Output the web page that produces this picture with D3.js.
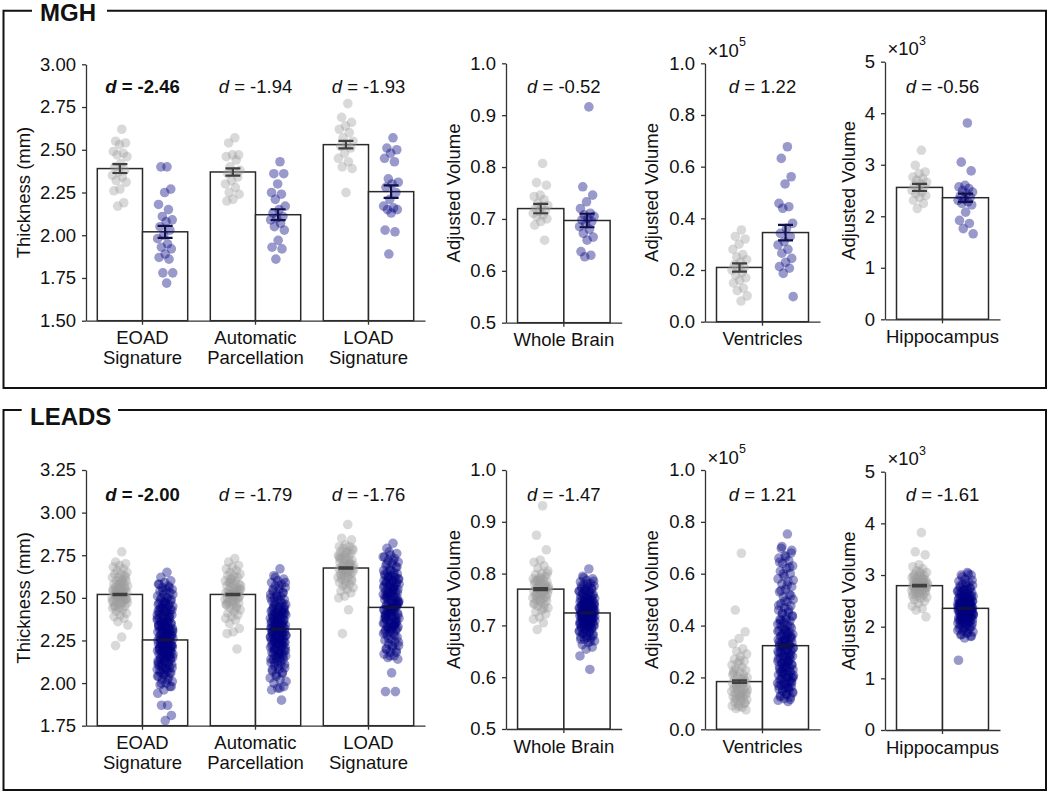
<!DOCTYPE html>
<html><head><meta charset="utf-8">
<script src="https://cdn.jsdelivr.net/npm/d3@7"></script>
<style>
body{margin:0;background:#fff;}
svg text{font-family:"Liberation Sans",Arial,Helvetica,sans-serif;fill:#111;}
</style></head><body>
<svg id="chart" width="1050" height="793"></svg>
<script>
// ---------------- DATA ----------------
const cohorts = ["MGH", "LEADS"];
const thicknessCategories = ["EOAD\nSignature", "Automatic\nParcellation", "LOAD\nSignature"];
const volumeCategories = ["Whole Brain", "Ventricles", "Hippocampus"];
const thicknessLabel = "Thickness (mm)";
const volumeLabel = "Adjusted Volume";
const volumeMultipliers = [null, "5", "3"];

// tick labels
const mghThickTicks = [1.50, 1.75, 2.00, 2.25, 2.50, 2.75, 3.00];
const leadsThickTicks = [1.75, 2.00, 2.25, 2.50, 2.75, 3.00, 3.25];
const wholeBrainTicks = [0.5, 0.6, 0.7, 0.8, 0.9, 1.0];
const ventricleTicks = [0.0, 0.2, 0.4, 0.6, 0.8, 1.0];
const hippocampusTicks = [0, 1, 2, 3, 4, 5];

// effect sizes
const mghThickD = ["-2.46", "-1.94", "-1.93"];
const mghVolD = ["-0.52", "1.22", "-0.56"];
const leadsThickD = ["-2.00", "-1.79", "-1.76"];
const leadsVolD = ["-1.47", "1.21", "-1.61"];

// bar means and standard errors (CN = grey, AD = blue)
const mghThickMeanCN = [2.39, 2.37, 2.53];
const mghThickMeanAD = [2.02, 2.12, 2.255];
const mghThickSeCN = [0.026, 0.021, 0.022];
const mghThickSeAD = [0.035, 0.032, 0.037];
const mghVolMeanCN = [0.720, 0.210, 2.56];
const mghVolMeanAD = [0.697, 0.345, 2.36];
const mghVolSeCN = [0.009, 0.016, 0.07];
const mghVolSeAD = [0.013, 0.030, 0.08];

const leadsThickMeanCN = [2.52, 2.52, 2.675];
const leadsThickMeanAD = [2.253, 2.317, 2.444];
const leadsThickSeCN = [0.004, 0.004, 0.004];
const leadsThickSeAD = [0.003, 0.003, 0.003];
const leadsVolMeanCN = [0.770, 0.184, 2.794];
const leadsVolMeanAD = [0.724, 0.3225, 2.355];
const leadsVolSeCN = [0.002, 0.005, 0.015];
const leadsVolSeAD = [0.001, 0.004, 0.01];

// individual points — MGH
const mghEoadCN = [2.62,2.55,2.54,2.53,2.49,2.48,2.47,2.46,2.42,2.40,2.38,2.37,2.35,2.34,2.32,2.31,2.27,2.26,2.19,2.17];
const mghEoadAD = [2.40,2.40,2.27,2.25,2.18,2.15,2.11,2.09,2.08,2.05,2.03,2.00,1.98,1.95,1.93,1.92,1.89,1.87,1.86,1.78,1.78,1.72];
const mghAutoCN = [2.57,2.54,2.47,2.47,2.46,2.44,2.40,2.38,2.37,2.36,2.34,2.32,2.30,2.28,2.25,2.24,2.21,2.20];
const mghAutoAD = [2.43,2.36,2.36,2.30,2.25,2.24,2.21,2.17,2.15,2.13,2.11,2.10,2.09,2.07,2.05,2.03,1.97,1.93,1.92,1.86];
const mghLoadCN = [2.77,2.69,2.66,2.64,2.62,2.60,2.57,2.55,2.53,2.52,2.51,2.48,2.45,2.43,2.40,2.39,2.25];
const mghLoadAD = [2.57,2.51,2.50,2.48,2.45,2.43,2.33,2.31,2.30,2.28,2.25,2.21,2.17,2.16,2.15,2.15,2.13,2.03,2.02,1.89];
const mghWholeCN = [0.807,0.770,0.765,0.746,0.743,0.737,0.730,0.726,0.724,0.720,0.716,0.714,0.711,0.708,0.704,0.700,0.695,0.688,0.659];
const mghWholeAD = [0.916,0.762,0.746,0.733,0.720,0.711,0.708,0.705,0.701,0.698,0.695,0.690,0.685,0.680,0.672,0.665,0.659,0.637,0.630,0.627];
const mghVentCN = [0.355,0.33,0.32,0.30,0.28,0.26,0.25,0.24,0.23,0.22,0.21,0.21,0.20,0.19,0.18,0.17,0.16,0.15,0.13,0.12,0.10,0.08];
const mghVentAD = [0.677,0.632,0.561,0.533,0.458,0.445,0.439,0.381,0.361,0.342,0.330,0.310,0.297,0.280,0.265,0.245,0.230,0.213,0.207,0.187,0.097];
const mghHippoCN = [3.28,2.99,2.86,2.83,2.76,2.73,2.70,2.66,2.63,2.60,2.57,2.54,2.50,2.47,2.44,2.40,2.37,2.31,2.25,2.15];
const mghHippoAD = [3.81,3.05,2.88,2.60,2.57,2.54,2.50,2.47,2.44,2.40,2.37,2.33,2.31,2.28,2.25,2.22,2.08,1.92,1.86,1.76,1.66];

// individual points — LEADS
const leadsEoadCN = [2.77,2.71,2.70,2.69,2.68,2.67,2.66,2.65,2.64,2.64,2.63,2.62,2.62,2.61,2.60,2.60,2.59,2.58,2.58,2.57,2.57,2.56,2.56,2.55,2.55,2.54,2.54,2.53,2.53,2.52,2.52,2.51,2.51,2.50,2.50,2.50,2.49,2.49,2.48,2.48,2.47,2.47,2.46,2.45,2.45,2.44,2.44,2.43,2.42,2.41,2.40,2.39,2.38,2.36,2.34,2.27,2.22,
  2.62,2.58,2.55,2.53,2.51,2.49,2.47,2.45,2.56,2.52,2.48,2.60,2.54,2.50];
const leadsEoadAD = [2.65,2.62,2.60,2.59,2.58,2.57,2.56,2.55,2.55,2.54,2.53,2.52,2.51,2.50,2.50,2.49,2.48,2.47,2.46,2.46,2.45,2.44,2.44,2.43,2.42,2.42,2.41,2.40,2.40,2.39,2.38,2.38,2.37,2.37,2.36,2.35,2.35,2.34,2.34,2.33,2.33,2.32,2.32,2.31,2.31,2.30,2.30,2.29,2.29,2.28,2.28,2.27,2.27,2.26,2.26,2.25,2.25,2.24,2.24,2.23,2.23,2.22,2.22,2.21,2.21,2.20,2.20,2.19,2.19,2.18,2.18,2.17,2.17,2.16,2.16,2.15,2.15,2.14,2.14,2.13,2.13,2.12,2.11,2.11,2.10,2.10,2.09,2.08,2.08,2.07,2.06,2.06,2.05,2.04,2.03,2.02,2.01,2.00,1.99,1.98,1.96,1.94,1.87,1.87,1.81,1.78,
  2.58,2.56,2.54,2.52,2.50,2.49,2.48,2.47,2.46,2.45,2.44,2.43,2.42,2.41,2.40,2.39,2.38,2.37,2.36,2.35,2.34,2.33,2.32,2.31,2.30,2.29,2.28,2.27,2.26,2.25,2.24,2.23,2.22,2.21,2.20,2.19,2.18,2.17,2.16,2.15,2.14,2.13,2.12,2.11,2.10,2.09,2.08,2.07,2.06,2.05,2.04,2.02,2.00,1.98,2.47,2.43,2.39,2.35,2.31,2.27,2.23,2.19,2.15,2.11,2.36,2.32,2.28,2.24,2.20,2.16,2.44,2.40,2.30,2.26,2.22,2.18,2.34,2.29,2.25,2.21];
const leadsAutoCN = [2.73,2.71,2.69,2.68,2.67,2.66,2.65,2.64,2.63,2.63,2.62,2.61,2.60,2.60,2.59,2.58,2.58,2.57,2.56,2.56,2.55,2.55,2.54,2.54,2.53,2.53,2.52,2.52,2.51,2.51,2.50,2.50,2.49,2.49,2.48,2.48,2.47,2.46,2.46,2.45,2.44,2.43,2.42,2.41,2.40,2.39,2.38,2.37,2.35,2.32,2.30,2.29,2.20,
  2.61,2.57,2.54,2.52,2.50,2.48,2.46,2.44,2.59,2.55,2.51,2.47,2.53];
const leadsAutoAD = [2.67,2.63,2.61,2.60,2.59,2.58,2.57,2.56,2.55,2.54,2.53,2.52,2.52,2.51,2.50,2.49,2.49,2.48,2.47,2.46,2.46,2.45,2.44,2.44,2.43,2.42,2.42,2.41,2.41,2.40,2.40,2.39,2.39,2.38,2.38,2.37,2.37,2.36,2.36,2.35,2.35,2.34,2.34,2.33,2.33,2.32,2.32,2.31,2.31,2.30,2.30,2.29,2.29,2.28,2.28,2.27,2.27,2.26,2.26,2.25,2.25,2.24,2.24,2.23,2.23,2.22,2.22,2.21,2.20,2.20,2.19,2.18,2.18,2.17,2.16,2.16,2.15,2.14,2.14,2.13,2.12,2.11,2.10,2.09,2.08,2.07,2.06,2.05,2.03,2.02,2.00,1.98,1.97,1.96,1.90,
  2.62,2.59,2.57,2.55,2.53,2.51,2.50,2.48,2.47,2.45,2.44,2.43,2.42,2.41,2.40,2.39,2.38,2.37,2.36,2.35,2.34,2.33,2.32,2.31,2.30,2.29,2.28,2.27,2.26,2.25,2.24,2.23,2.22,2.21,2.20,2.19,2.18,2.17,2.16,2.15,2.14,2.13,2.12,2.11,2.10,2.08,2.06,2.04,2.01,1.97,2.45,2.41,2.37,2.33,2.29,2.25,2.21,2.17,2.39,2.35,2.31,2.27,2.23,2.19,2.43,2.36,2.30,2.24,2.34,2.28];
const leadsLoadCN = [2.93,2.85,2.84,2.81,2.80,2.80,2.79,2.78,2.77,2.77,2.76,2.75,2.75,2.74,2.73,2.72,2.72,2.71,2.70,2.70,2.69,2.69,2.68,2.68,2.67,2.67,2.66,2.66,2.65,2.65,2.64,2.64,2.63,2.62,2.62,2.61,2.60,2.60,2.59,2.58,2.57,2.56,2.55,2.54,2.53,2.51,2.50,2.43,2.29,
  2.79,2.76,2.73,2.71,2.69,2.67,2.65,2.63,2.61,2.58,2.74,2.70,2.66];
const leadsLoadAD = [2.82,2.79,2.76,2.75,2.74,2.73,2.72,2.71,2.70,2.69,2.68,2.67,2.66,2.65,2.65,2.64,2.63,2.63,2.62,2.61,2.61,2.60,2.59,2.59,2.58,2.57,2.57,2.56,2.55,2.55,2.54,2.53,2.53,2.52,2.51,2.51,2.50,2.49,2.49,2.48,2.47,2.47,2.46,2.45,2.45,2.44,2.43,2.43,2.42,2.41,2.41,2.40,2.39,2.39,2.38,2.37,2.37,2.36,2.35,2.35,2.34,2.33,2.33,2.32,2.31,2.31,2.30,2.29,2.29,2.28,2.27,2.26,2.25,2.24,2.23,2.22,2.21,2.20,2.19,2.18,2.17,2.16,2.15,2.14,2.06,1.95,1.95,
  2.77,2.74,2.72,2.70,2.68,2.66,2.64,2.63,2.62,2.61,2.60,2.59,2.58,2.57,2.56,2.55,2.54,2.53,2.52,2.51,2.50,2.49,2.48,2.47,2.46,2.45,2.44,2.43,2.42,2.41,2.40,2.39,2.38,2.37,2.36,2.35,2.34,2.33,2.32,2.31,2.30,2.28,2.26,2.24,2.22,2.20,2.18,2.16,2.60,2.56,2.52,2.48,2.44,2.40,2.36,2.32,2.58,2.54,2.50,2.46,2.42,2.38,2.34,2.62,2.47,2.43,2.39,2.35];
const leadsWholeCN = [0.931,0.874,0.846,0.826,0.822,0.815,0.810,0.805,0.800,0.798,0.795,0.792,0.790,0.788,0.786,0.784,0.782,0.780,0.778,0.776,0.775,0.773,0.771,0.770,0.768,0.766,0.765,0.763,0.761,0.760,0.758,0.756,0.755,0.753,0.751,0.749,0.747,0.745,0.742,0.740,0.737,0.734,0.730,0.726,0.722,0.716,0.712,0.705,0.692,
  0.800,0.791,0.785,0.779,0.774,0.769,0.764,0.759,0.754,0.748,0.741,0.733,0.787,0.772];
const leadsWholeAD = [0.809,0.795,0.790,0.787,0.784,0.781,0.778,0.776,0.774,0.772,0.770,0.768,0.766,0.764,0.762,0.760,0.758,0.757,0.755,0.754,0.752,0.751,0.749,0.748,0.746,0.745,0.744,0.742,0.741,0.740,0.738,0.737,0.736,0.734,0.733,0.732,0.731,0.729,0.728,0.727,0.726,0.725,0.724,0.722,0.721,0.720,0.719,0.718,0.716,0.715,0.714,0.713,0.712,0.710,0.709,0.708,0.707,0.705,0.704,0.703,0.701,0.700,0.698,0.697,0.695,0.693,0.691,0.689,0.687,0.685,0.683,0.680,0.678,0.676,0.673,0.670,0.667,0.663,0.658,0.654,0.641,0.615,
  0.792,0.785,0.780,0.776,0.772,0.769,0.766,0.763,0.760,0.757,0.754,0.751,0.748,0.745,0.743,0.741,0.739,0.737,0.735,0.733,0.731,0.729,0.727,0.725,0.723,0.721,0.719,0.717,0.715,0.713,0.711,0.709,0.707,0.705,0.703,0.701,0.699,0.697,0.695,0.692,0.689,0.686,0.683,0.680,0.677,0.673,0.669,0.745,0.738,0.731,0.724,0.717,0.710,0.703,0.696,0.740,0.733,0.726,0.719,0.712,0.705,0.728,0.722,0.716];
const leadsVentCN = [0.679,0.460,0.376,0.350,0.330,0.310,0.300,0.290,0.280,0.270,0.262,0.255,0.248,0.240,0.234,0.228,0.222,0.216,0.210,0.205,0.200,0.195,0.190,0.186,0.182,0.178,0.174,0.170,0.166,0.162,0.158,0.154,0.150,0.146,0.142,0.138,0.134,0.130,0.126,0.122,0.118,0.114,0.110,0.105,0.100,0.095,0.090,0.085,0.080,0.075,
  0.265,0.225,0.195,0.172,0.152,0.135,0.118,0.102,0.088,0.210,0.180,0.160,0.140,0.125];
const leadsVentAD = [0.753,0.698,0.680,0.670,0.660,0.650,0.640,0.630,0.620,0.610,0.600,0.590,0.580,0.570,0.560,0.550,0.540,0.530,0.520,0.510,0.500,0.492,0.484,0.476,0.468,0.460,0.452,0.445,0.438,0.431,0.424,0.418,0.412,0.406,0.400,0.395,0.390,0.385,0.380,0.375,0.370,0.366,0.362,0.358,0.354,0.350,0.346,0.342,0.338,0.334,0.330,0.326,0.322,0.318,0.314,0.310,0.306,0.302,0.298,0.294,0.290,0.286,0.282,0.278,0.274,0.270,0.266,0.262,0.258,0.254,0.250,0.246,0.242,0.238,0.234,0.230,0.226,0.222,0.218,0.214,0.210,0.206,0.202,0.198,0.194,0.190,0.186,0.182,0.178,0.174,0.170,0.165,0.160,0.155,0.150,0.145,0.140,0.135,0.130,0.124,0.118,0.112,0.107,
  0.705,0.690,0.665,0.645,0.625,0.600,0.575,0.555,0.535,0.515,0.495,0.478,0.462,0.448,0.435,0.422,0.410,0.398,0.388,0.378,0.368,0.360,0.352,0.344,0.336,0.328,0.320,0.312,0.304,0.296,0.288,0.280,0.272,0.264,0.256,0.248,0.240,0.232,0.224,0.216,0.208,0.200,0.192,0.184,0.176,0.168,0.160,0.152,0.144,0.135,0.125,0.115,0.340,0.300,0.260,0.220,0.180,0.380,0.320,0.280,0.240,0.200,0.160,0.420,0.360];
const leadsHippoCN = [3.82,3.45,3.39,3.20,3.16,3.12,3.08,3.05,3.03,3.01,2.99,2.97,2.95,2.93,2.92,2.90,2.89,2.87,2.86,2.85,2.84,2.83,2.82,2.81,2.80,2.79,2.78,2.77,2.76,2.75,2.74,2.73,2.72,2.70,2.69,2.68,2.66,2.65,2.63,2.61,2.59,2.57,2.55,2.52,2.49,2.45,2.40,2.35,2.32,2.19,
  3.06,2.98,2.91,2.86,2.82,2.78,2.74,2.70,2.64,2.58,2.94,2.84,2.76];
const leadsHippoAD = [3.05,3.00,3.00,2.92,2.88,2.85,2.82,2.80,2.78,2.76,2.74,2.72,2.70,2.69,2.67,2.66,2.64,2.63,2.61,2.60,2.59,2.57,2.56,2.55,2.54,2.53,2.52,2.50,2.49,2.48,2.47,2.46,2.45,2.44,2.43,2.42,2.41,2.40,2.39,2.38,2.37,2.36,2.35,2.34,2.33,2.32,2.31,2.30,2.29,2.28,2.27,2.26,2.25,2.24,2.23,2.22,2.21,2.20,2.19,2.18,2.17,2.16,2.14,2.13,2.12,2.10,2.09,2.07,2.05,2.03,2.01,1.99,1.97,1.95,1.92,1.90,1.87,1.84,1.81,1.78,1.35,
  3.02,2.96,2.90,2.84,2.79,2.75,2.71,2.68,2.65,2.62,2.59,2.57,2.55,2.53,2.51,2.49,2.47,2.45,2.43,2.41,2.39,2.37,2.35,2.33,2.31,2.29,2.27,2.25,2.23,2.21,2.19,2.17,2.15,2.13,2.11,2.09,2.07,2.05,2.02,1.99,1.96,1.93,1.89,1.85,1.82,2.50,2.44,2.38,2.32,2.26,2.20,2.14,2.46,2.40,2.34,2.28,2.22,2.36,2.30,2.42];

// ---------------- DRAWING ----------------
const svg = d3.select("#chart");
svg.append("rect").attr("width", 1050).attr("height", 793).attr("fill", "#fff");

const FONT = 18.5;
const cnFill = "#9a9a9a", adFill = "#000080";
const cnErr = "#404040", adErr = "#10104a";
const axisColor = "#333";

// cohort frames
const frames = [
  {title: cohorts[0], top: 10.7, bottom: 388, gapA: 32, gapB: 107, tx: 40, ty: 21},
  {title: cohorts[1], top: 410, bottom: 790, gapA: 21.7, gapB: 118, tx: 30, ty: 425}
];
frames.forEach(f => {
  svg.append("path")
    .attr("d", `M${f.gapB},${f.top}H1046V${f.bottom}H3.5V${f.top}H${f.gapA}`)
    .attr("fill", "none").attr("stroke", "#111").attr("stroke-width", 2);
  svg.append("text").attr("x", f.tx).attr("y", f.ty)
    .attr("font-size", 24).attr("font-weight", "bold").text(f.title);
});

function jitter(i) {
  return ((((i + 1) * 0.6180339887) % 1) - 0.5) * 16;
}

function drawPanel(cfg) {
  const g = svg.append("g");
  const x = d3.scaleBand().domain(cfg.categories).range([cfg.x0, cfg.x1])
    .paddingInner(0.2).paddingOuter(0.1);
  const sub = d3.scaleBand().domain(["CN", "AD"]).range([0, x.bandwidth()]);
  const y = d3.scaleLinear().domain(cfg.domain).range([cfg.yb, cfg.yt]);

  // bars
  cfg.categories.forEach((c, i) => {
    [["CN", cfg.meanCN[i]], ["AD", cfg.meanAD[i]]].forEach(([grp, v]) => {
      g.append("rect")
        .attr("x", x(c) + sub(grp)).attr("width", sub.bandwidth())
        .attr("y", y(v)).attr("height", y(cfg.domain[0]) - y(v))
        .attr("fill", "#fff").attr("stroke", "#2a2a2a").attr("stroke-width", 1.5);
    });
  });

  // points
  cfg.categories.forEach((c, i) => {
    [["CN", cfg.ptsCN[i], cnFill, 0.38], ["AD", cfg.ptsAD[i], adFill, 0.4]].forEach(([grp, pts, col, op]) => {
      const cx = x(c) + sub(grp) + sub.bandwidth() / 2;
      g.selectAll(null).data(pts).enter().append("circle")
        .attr("cx", (d, j) => cx + jitter(j))
        .attr("cy", d => y(d))
        .attr("r", 4.8)
        .attr("fill", col).attr("fill-opacity", op);
    });
  });

  // error bars
  cfg.categories.forEach((c, i) => {
    [["CN", cfg.meanCN[i], cfg.seCN[i], cnErr], ["AD", cfg.meanAD[i], cfg.seAD[i], adErr]].forEach(([grp, m, se, col]) => {
      const cx = x(c) + sub(grp) + sub.bandwidth() / 2;
      const lo = y(m - se), hi = y(m + se);
      g.append("path")
        .attr("d", `M${cx},${lo}V${hi}M${cx - 7.5},${lo}H${cx + 7.5}M${cx - 7.5},${hi}H${cx + 7.5}`)
        .attr("stroke", col).attr("stroke-width", 2.2).attr("fill", "none");
    });
  });

  // y axis
  const ya = g.append("g").attr("transform", `translate(${cfg.x0},0)`)
    .call(d3.axisLeft(y).tickValues(cfg.ticks).tickFormat(d3.format(cfg.fmt))
      .tickSize(4).tickSizeOuter(0).tickPadding(6));
  // x axis
  const xa = g.append("g").attr("transform", `translate(0,${cfg.yb})`)
    .call(d3.axisBottom(x).tickSize(4).tickSizeOuter(0).tickFormat(""));
  [ya, xa].forEach(a => {
    a.select(".domain").attr("stroke", axisColor).attr("stroke-width", 1.3);
    a.selectAll(".tick line").attr("stroke", axisColor).attr("stroke-width", 1.3);
    a.selectAll(".tick text").attr("font-size", FONT).attr("fill", "#111")
      .attr("font-family", '"Liberation Sans",Arial,sans-serif');
  });

  // category labels
  cfg.categories.forEach(c => {
    const t = g.append("text").attr("text-anchor", "middle").attr("font-size", FONT)
      .attr("x", x(c) + x.bandwidth() / 2).attr("y", cfg.yb + 23.5);
    c.split("\n").forEach((line, k) => {
      t.append("tspan").attr("x", x(c) + x.bandwidth() / 2).attr("dy", k === 0 ? 0 : 19.5).text(line);
    });
  });

  // effect size labels
  cfg.categories.forEach((c, i) => {
    const bold = cfg.boldIdx === i;
    const t = g.append("text").attr("text-anchor", "middle").attr("font-size", FONT)
      .attr("font-weight", bold ? "bold" : "normal")
      .attr("x", x(c) + x.bandwidth() / 2).attr("y", cfg.dY);
    t.append("tspan").attr("font-style", "italic").text("d");
    t.append("tspan").text(" = " + cfg.dLabels[i]);
  });

  // y label
  g.append("text").attr("text-anchor", "middle").attr("font-size", FONT)
    .attr("transform", `translate(${cfg.ylabX},${(cfg.yb + cfg.yt) / 2}) rotate(-90)`)
    .text(cfg.ylabel);

  // multiplier
  if (cfg.mult) {
    const t = g.append("text").attr("font-size", FONT)
      .attr("x", cfg.x0 + 2.5).attr("y", cfg.yt - 6.5);
    t.append("tspan").text("\u00d710");
    t.append("tspan").attr("font-size", 12.5).attr("dy", -10.5).text(cfg.mult);
  }
}

const layouts = [
  {dY: 92.5, panels: [
    {x0: 86, x1: 425, yb: 320.7, yt: 64.3, ylabX: 30},
    {x0: 506, x1: 621.7, yb: 322.7, yt: 63.3, ylabX: 460},
    {x0: 705, x1: 820, yb: 321.7, yt: 63.3, ylabX: 658},
    {x0: 885, x1: 1000, yb: 319.3, yt: 61.7, ylabX: 855}]},
  {dY: 500.5, panels: [
    {x0: 86, x1: 425, yb: 725.7, yt: 470, ylabX: 30},
    {x0: 506, x1: 621.7, yb: 729, yt: 470, ylabX: 460},
    {x0: 705, x1: 820, yb: 729.3, yt: 470, ylabX: 658},
    {x0: 885, x1: 1000, yb: 730, yt: 471.7, ylabX: 855}]}
];

const cohortData = [
  {thickTicks: mghThickTicks, thickD: mghThickD, volD: mghVolD,
   tMeanCN: mghThickMeanCN, tMeanAD: mghThickMeanAD, tSeCN: mghThickSeCN, tSeAD: mghThickSeAD,
   vMeanCN: mghVolMeanCN, vMeanAD: mghVolMeanAD, vSeCN: mghVolSeCN, vSeAD: mghVolSeAD,
   tCN: [mghEoadCN, mghAutoCN, mghLoadCN], tAD: [mghEoadAD, mghAutoAD, mghLoadAD],
   vCN: [mghWholeCN, mghVentCN, mghHippoCN], vAD: [mghWholeAD, mghVentAD, mghHippoAD]},
  {thickTicks: leadsThickTicks, thickD: leadsThickD, volD: leadsVolD,
   tMeanCN: leadsThickMeanCN, tMeanAD: leadsThickMeanAD, tSeCN: leadsThickSeCN, tSeAD: leadsThickSeAD,
   vMeanCN: leadsVolMeanCN, vMeanAD: leadsVolMeanAD, vSeCN: leadsVolSeCN, vSeAD: leadsVolSeAD,
   tCN: [leadsEoadCN, leadsAutoCN, leadsLoadCN], tAD: [leadsEoadAD, leadsAutoAD, leadsLoadAD],
   vCN: [leadsWholeCN, leadsVentCN, leadsHippoCN], vAD: [leadsWholeAD, leadsVentAD, leadsHippoAD]}
];

const volTicks = [wholeBrainTicks, ventricleTicks, hippocampusTicks];
const volFmt = [".1f", ".1f", "d"];

cohortData.forEach((cd, ci) => {
  const L = layouts[ci];
  const tt = cd.thickTicks;
  drawPanel(Object.assign({}, L.panels[0], {
    dY: L.dY, categories: thicknessCategories, domain: [tt[0], tt[tt.length - 1]],
    ticks: tt, fmt: ".2f", ylabel: thicknessLabel, boldIdx: 0, dLabels: cd.thickD,
    meanCN: cd.tMeanCN, meanAD: cd.tMeanAD, seCN: cd.tSeCN, seAD: cd.tSeAD,
    ptsCN: cd.tCN, ptsAD: cd.tAD, mult: null
  }));
  volumeCategories.forEach((vc, vi) => {
    const tk = volTicks[vi];
    drawPanel(Object.assign({}, L.panels[vi + 1], {
      dY: L.dY, categories: [vc], domain: [tk[0], tk[tk.length - 1]],
      ticks: tk, fmt: volFmt[vi], ylabel: volumeLabel, boldIdx: -1, dLabels: [cd.volD[vi]],
      meanCN: [cd.vMeanCN[vi]], meanAD: [cd.vMeanAD[vi]], seCN: [cd.vSeCN[vi]], seAD: [cd.vSeAD[vi]],
      ptsCN: [cd.vCN[vi]], ptsAD: [cd.vAD[vi]], mult: volumeMultipliers[vi]
    }));
  });
});
</script>
</body></html>
